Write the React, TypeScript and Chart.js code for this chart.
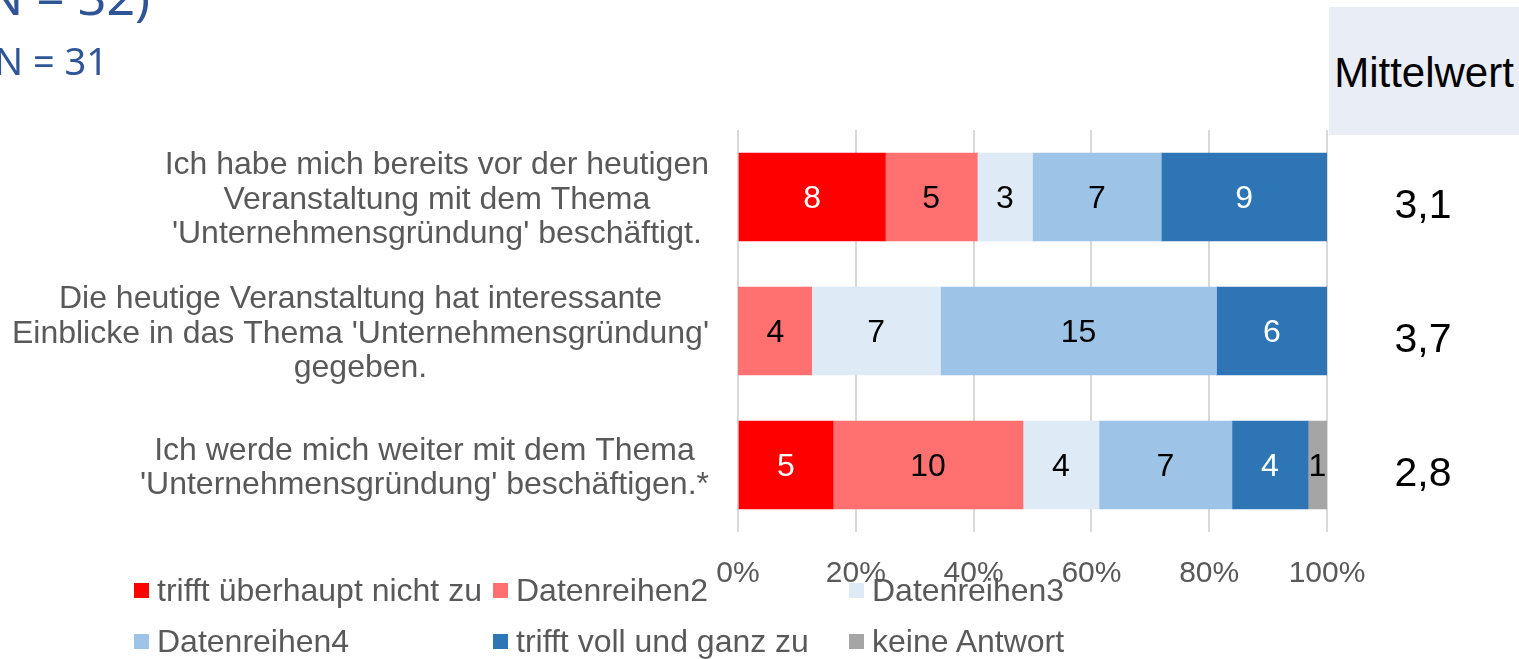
import React, { useEffect, useRef } from "react";
import { Chart, registerables } from "chart.js";

Chart.register(...registerables);

const categories: string[][] = [
  ["Ich habe mich bereits vor der heutigen", "Veranstaltung mit dem Thema", "'Unternehmensgründung' beschäftigt."],
  ["Die heutige Veranstaltung hat interessante", "Einblicke in das Thema 'Unternehmensgründung'", "gegeben."],
  ["Ich werde mich weiter mit dem Thema", "'Unternehmensgründung' beschäftigen.*"],
];

const seriesNames = [
  "trifft überhaupt nicht zu",
  "Datenreihen2",
  "Datenreihen3",
  "Datenreihen4",
  "trifft voll und ganz zu",
  "keine Antwort",
];
const seriesColors = ["#FF0000", "#FF7171", "#DEEBF7", "#9DC3E6", "#2E75B6", "#A5A5A5"];
const labelColors = ["#FFFFFF", "#000000", "#000000", "#000000", "#FFFFFF", "#000000"];

const s1 = [8, 0, 5];
const s2 = [5, 4, 10];
const s3 = [3, 7, 4];
const s4 = [7, 15, 7];
const s5 = [9, 6, 4];
const s6 = [0, 0, 1];
const counts = [s1, s2, s3, s4, s5, s6];

const means = [3.1, 3.7, 2.8];
const xTicks = [0, 20, 40, 60, 80, 100];

const titleMain = "(N = 32)";
const titleSub = "N = 31";
const meanHeader = "Mittelwert";

const FONT = '"Liberation Sans", Arial, sans-serif';

export default function App() {
  const ref = useRef<HTMLCanvasElement>(null);

  useEffect(() => {
    const totals = categories.map((_, i) => counts.reduce((a, s) => a + s[i], 0));
    const datasets = counts.map((s, k) => ({
      label: seriesNames[k],
      data: s.map((v, i) => (v / totals[i]) * 100),
      backgroundColor: seriesColors[k],
      borderWidth: 0,
      barThickness: 88,
    }));

    const labelsPlugin = {
      id: "customLabels",
      afterDatasetsDraw(chart: any) {
        const ctx = chart.ctx;
        const yScale = chart.scales.y;
        ctx.save();
        ctx.font = `32px ${FONT}`;
        ctx.textAlign = "center";
        ctx.textBaseline = "middle";
        chart.data.datasets.forEach((ds: any, k: number) => {
          const meta = chart.getDatasetMeta(k);
          meta.data.forEach((bar: any, i: number) => {
            const v = counts[k][i];
            if (!v) return;
            const { x, base, y } = bar.getProps(["x", "base", "y"], true);
            ctx.fillStyle = labelColors[k];
            ctx.fillText(String(v), (x + base) / 2, y + 2);
          });
        });
        ctx.font = `32px ${FONT}`;
        ctx.fillStyle = "#595959";
        const lh = 34.5;
        categories.forEach((lines, i) => {
          const yc = yScale.getPixelForValue(i) + 3;
          const maxW = Math.max(...lines.map((l) => ctx.measureText(l).width));
          const cx = 709 - maxW / 2;
          lines.forEach((l, j) => {
            ctx.fillText(l, cx, yc + (j - (lines.length - 1) / 2) * lh);
          });
        });
        ctx.font = `41px ${FONT}`;
        ctx.fillStyle = "#000000";
        means.forEach((m, i) => {
          const yc = yScale.getPixelForValue(i);
          ctx.fillText(m.toFixed(1).replace(".", ","), 1423, yc + 10);
        });
        ctx.restore();
      },
    };

    const chart = new Chart(ref.current!, {
      type: "bar",
      data: { labels: categories.map((c) => c.join(" ")), datasets },
      options: {
        indexAxis: "y",
        animation: false,
        responsive: false,
        layout: { padding: { left: 738, right: 192, top: 130, bottom: 43 } },
        plugins: { legend: { display: false }, tooltip: { enabled: false } },
        scales: {
          x: {
            stacked: true,
            min: 0,
            max: 100,
            afterBuildTicks: (axis: any) => {
              axis.ticks = xTicks.map((v) => ({ value: v }));
            },
            ticks: {
              callback: (v: any) => `${v}%`,
              color: "#595959",
              font: { family: FONT, size: 30 },
              padding: 24,
              maxRotation: 0,
            },
            grid: { color: "#D9D9D9", lineWidth: 2, drawTicks: false },
            border: { display: false },
          },
          y: {
            stacked: true,
            display: false,
          },
        },
      } as any,
      plugins: [labelsPlugin],
    });
    return () => chart.destroy();
  }, []);

  const legendCols = [134, 493, 849];
  const legendRows = [590, 641];

  return (
    <div style={{ position: "absolute", left: 0, top: 0, width: 1519, height: 659, overflow: "hidden", background: "#fff" }}>
      <canvas ref={ref} width={1519} height={659} style={{ position: "absolute", left: 0, top: 0 }} />
      <div
        style={{
          position: "absolute", left: -400, width: 550, top: -29, textAlign: "right",
          fontFamily: '"Noto Sans", sans-serif', fontSize: 50, lineHeight: "50px", color: "#2F5597", whiteSpace: "nowrap",
        }}
      >
        {titleMain}
      </div>
      <div
        style={{
          position: "absolute", left: -400, width: 508, top: 41, textAlign: "right",
          fontFamily: '"Noto Sans", sans-serif', fontSize: 38, lineHeight: "38px", color: "#2F5597", whiteSpace: "nowrap",
        }}
      >
        {titleSub}
      </div>
      <div
        style={{
          position: "absolute", left: 1329, top: 7, width: 190, height: 128, background: "#E9EDF6",
          display: "flex", alignItems: "center", justifyContent: "center", paddingTop: 4, boxSizing: "border-box",
          fontFamily: FONT, fontSize: 42, color: "#000", whiteSpace: "nowrap",
        }}
      >
        {meanHeader}
      </div>
      {seriesNames.map((name, k) => (
        <div
          key={name}
          style={{
            position: "absolute",
            left: legendCols[k % 3],
            top: legendRows[Math.floor(k / 3)] - 20,
            height: 40,
            display: "flex",
            alignItems: "center",
            fontFamily: FONT,
            fontSize: 32,
            color: "#595959",
            whiteSpace: "nowrap",
          }}
        >
          <span style={{ display: "inline-block", width: 15, height: 15, background: seriesColors[k], marginRight: 8 }} />
          <span>{name}</span>
        </div>
      ))}
    </div>
  );
}
